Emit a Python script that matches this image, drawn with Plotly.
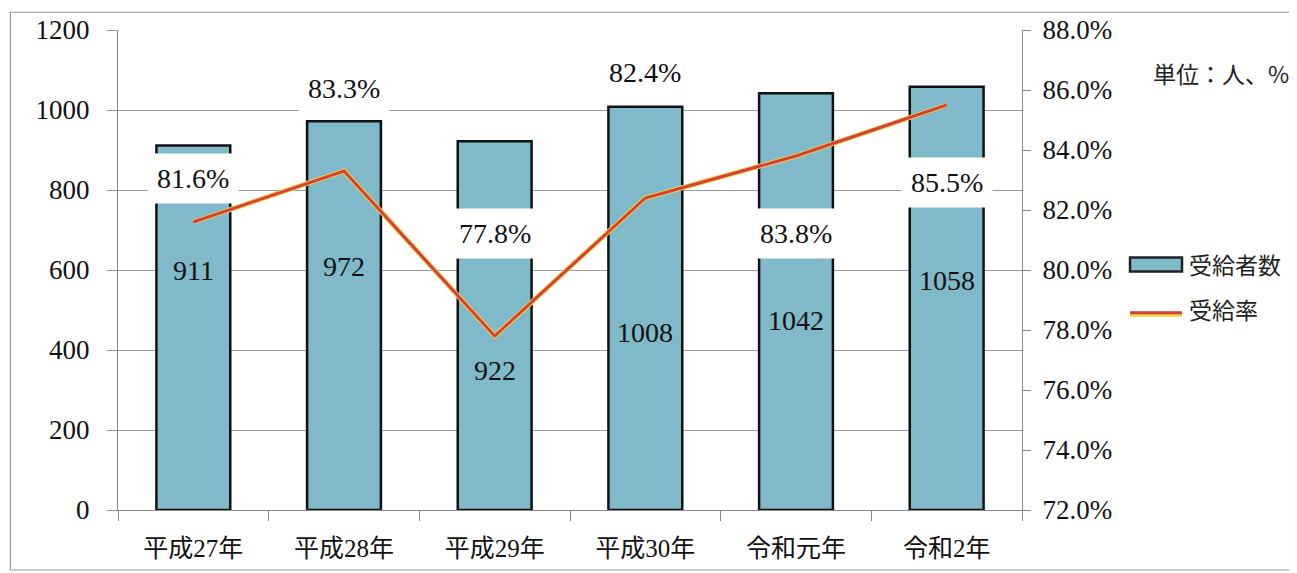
import plotly.graph_objects as go

categories = ["平成27年", "平成28年", "平成29年", "平成30年", "令和元年", "令和2年"]
recipients = [911, 972, 922, 1008, 1042, 1058]
rate = [81.6, 83.3, 77.8, 82.4, 83.8, 85.5]
rate_labels = ["81.6%", "83.3%", "77.8%", "82.4%", "83.8%", "85.5%"]
# label anchor positions (on the left axis scale)
count_label_y = [600, 610, 350, 445, 475, 575]
rate_label_y = [830, 1055, 692, 1095, 692, 820]

left_ticks = [0, 200, 400, 600, 800, 1000, 1200]
right_ticks = [72, 74, 76, 78, 80, 82, 84, 86, 88]

SERIF = "Liberation Serif, Noto Sans CJK JP"
BAR_COLOR = "#7fb9ca"
fig = go.Figure()

fig.add_trace(go.Bar(
    x=categories, y=recipients, name="受給者数",
    marker=dict(color=BAR_COLOR, line=dict(color="#111111", width=2.5)),
    width=0.49,
))
fig.add_trace(go.Scatter(
    x=categories, y=rate, name="受給率", yaxis="y2", mode="lines",
    line=dict(color="#f2d23a", width=5), hoverinfo="skip",
))
fig.add_trace(go.Scatter(
    x=categories, y=rate, name="受給率", yaxis="y2", mode="lines",
    line=dict(color="#d2403f", width=3),
))

for c, v, yy in zip(categories, recipients, count_label_y):
    fig.add_annotation(x=c, y=yy, text=str(v), showarrow=False,
                       font=dict(family=SERIF, size=28, color="#111"))
for c, t, yy in zip(categories, rate_labels, rate_label_y):
    fig.add_annotation(x=c, y=yy, text=t, showarrow=False, bgcolor="white",
                       borderpad=9,
                       font=dict(family=SERIF, size=28, color="#111"))

fig.add_annotation(xref="paper", yref="paper", x=1.298, y=0.95, xanchor="right",
                   text="単位：人、%", showarrow=False,
                   font=dict(family="Noto Sans CJK JP", size=23, color="#222"))

# manual legend
fig.add_shape(type="rect", xref="paper", yref="paper",
              x0=1.1195, x1=1.177, y0=0.497, y1=0.526,
              fillcolor=BAR_COLOR, line=dict(color="#222", width=2.5))
fig.add_shape(type="line", xref="paper", yref="paper",
              x0=1.1195, x1=1.177, y0=0.408, y1=0.408,
              line=dict(color="#f2d23a", width=5))
fig.add_shape(type="line", xref="paper", yref="paper",
              x0=1.1195, x1=1.177, y0=0.411, y1=0.411,
              line=dict(color="#d2403f", width=3))
fig.add_annotation(xref="paper", yref="paper", x=1.183, y=0.513, xanchor="left",
                   text="受給者数", showarrow=False,
                   font=dict(family="Noto Sans CJK JP", size=23, color="#222"))
fig.add_annotation(xref="paper", yref="paper", x=1.183, y=0.418, xanchor="left",
                   text="受給率", showarrow=False,
                   font=dict(family="Noto Sans CJK JP", size=23, color="#222"))

fig.add_shape(type="rect", xref="paper", yref="paper",
              x0=-0.119, x1=1.296, y0=-0.125, y1=1.037,
              line=dict(color="#999", width=1.2))

# page body has an 8px default margin: shrink the figure to compensate
fig.update_layout(
    width=1289, height=565,
    margin=dict(l=110, r=275, t=22, b=63, autoexpand=False),
    plot_bgcolor="white", paper_bgcolor="white",
    showlegend=False,
    xaxis=dict(
        showline=True, linecolor="#888", linewidth=1.2,
        ticks="outside", ticklen=10, tickcolor="#888",
        tickson="boundaries", showgrid=False, automargin=False,
        ticklabelstandoff=16,
        tickfont=dict(family=SERIF, size=25, color="#111"),
    ),
    yaxis=dict(
        range=[0, 1200], tickvals=left_ticks,
        showgrid=True, gridcolor="#999", gridwidth=1,
        showline=True, linecolor="#888", linewidth=1.2,
        ticks="outside", ticklen=10, tickcolor="#999",
        ticklabelstandoff=12, automargin=False,
        tickfont=dict(family=SERIF, size=27, color="#111"),
        zeroline=False,
    ),
    yaxis2=dict(
        range=[72, 88], tickvals=right_ticks,
        ticktext=[f"{v:.1f}%" for v in right_ticks],
        overlaying="y", side="right",
        showgrid=False, showline=True, linecolor="#888", linewidth=1.2,
        ticks="outside", ticklen=8, tickcolor="#888",
        ticklabelstandoff=6, automargin=False,
        tickfont=dict(family=SERIF, size=27, color="#111"),
        zeroline=False,
    ),
)

fig.write_html("out.html")
